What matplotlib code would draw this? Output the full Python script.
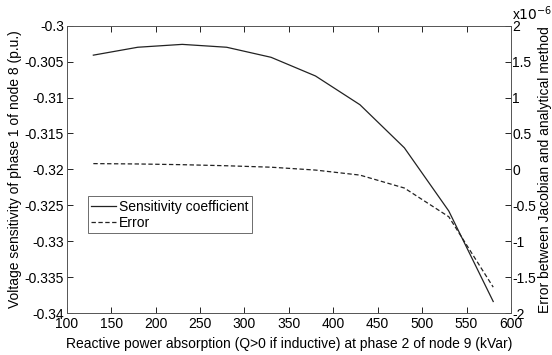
import matplotlib
matplotlib.use("Agg")
import matplotlib.pyplot as plt

plt.rcParams["font.family"] = ["Liberation Sans", "DejaVu Sans"]

# reactive power absorption (kVar)
q_kvar = [130, 180, 230, 280, 330, 380, 430, 480, 530, 580]
# sensitivity coefficient (p.u.)
sensitivity = [-0.3041, -0.3030, -0.3026, -0.3030, -0.3044,
               -0.3070, -0.3110, -0.3170, -0.3258, -0.3384]
# error between Jacobian and analytical method, in units of 1e-6
error_e6 = [0.08, 0.075, 0.065, 0.05, 0.03, -0.01, -0.08, -0.26, -0.66, -1.64]

x_ticks = [100, 150, 200, 250, 300, 350, 400, 450, 500, 550, 600]
left_ticks = [-0.34, -0.335, -0.33, -0.325, -0.32, -0.315, -0.31, -0.305, -0.3]
left_labels = ["-0.34", "-0.335", "-0.33", "-0.325", "-0.32", "-0.315", "-0.31", "-0.305", "-0.3"]
right_ticks = [-2, -1.5, -1, -0.5, 0, 0.5, 1, 1.5, 2]
right_labels = ["-2", "-1.5", "-1", "-0.5", "0", "0.5", "1", "1.5", "2"]

fig = plt.figure(figsize=(5.52, 3.55), dpi=100)
ax = fig.add_axes([0.1208, 0.1183, 0.8049, 0.8093])
ax2 = ax.twinx()

l1, = ax.plot(q_kvar, sensitivity, color="#222222", lw=0.9, label="Sensitivity coefficient")
l2, = ax2.plot(q_kvar, error_e6, color="#222222", lw=0.9, ls=(0, (3.5, 2)), label="Error")

ax.set_xlim(100, 600)
ax.set_ylim(-0.34, -0.3)
ax2.set_ylim(-2, 2)
ax.set_xticks(x_ticks)
ax.set_yticks(left_ticks)
ax.set_yticklabels(left_labels)
ax2.set_yticks(right_ticks)
ax2.set_yticklabels(right_labels)

ax.tick_params(axis="x", direction="in", top=True, length=4, width=0.6, labelsize=10, pad=3)
ax.tick_params(axis="y", direction="in", length=4, width=0.6, labelsize=10, pad=2)
ax2.tick_params(axis="y", direction="in", length=4, width=0.6, labelsize=10, pad=1)
for a in (ax, ax2):
    for s in a.spines.values():
        s.set_linewidth(0.6)
        s.set_color("#555555")

ax.set_xlabel("Reactive power absorption (Q>0 if inductive) at phase 2 of node 9 (kVar)", fontsize=10, labelpad=4)
ax.set_ylabel("Voltage sensitivity of phase 1 of node 8 (p.u.)", fontsize=10, labelpad=2)
ax2.set_ylabel("Error between Jacobian and analytical method", fontsize=10, labelpad=1)

fig.text(0.927, 0.936, r"x$10^{-6}$", fontsize=10, ha="left", va="bottom")

leg = ax.legend([l1, l2], ["Sensitivity coefficient", "Error"], loc="lower left",
                bbox_to_anchor=(0.047, 0.278), borderaxespad=0, fontsize=10,
                fancybox=False, framealpha=1, edgecolor="#555555",
                handlelength=1.8, handletextpad=0.2, borderpad=0.25, labelspacing=0.15)
leg.get_frame().set_linewidth(0.6)

fig.savefig("out.png", dpi=100)
